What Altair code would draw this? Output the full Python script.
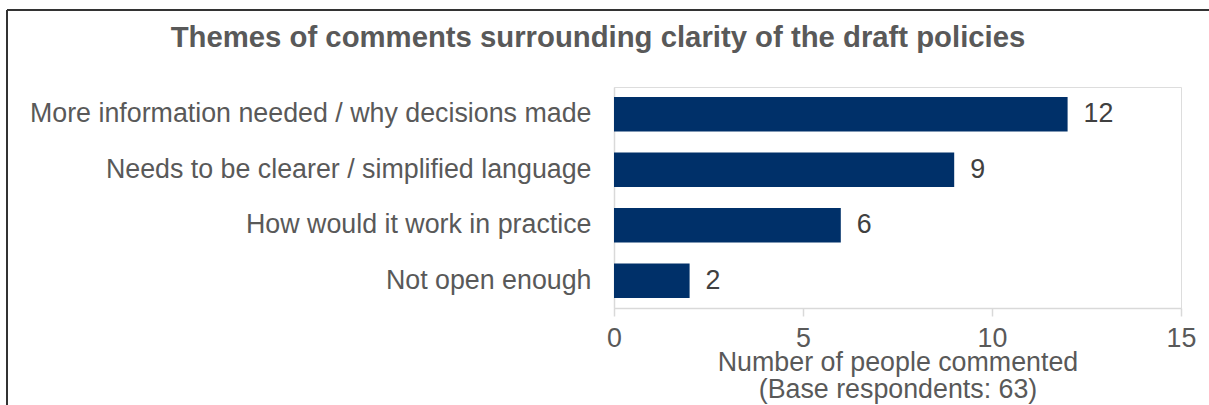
import altair as alt
import pandas as pd

themes = [
    "More information needed / why decisions made",
    "Needs to be clearer / simplified language",
    "How would it work in practice",
    "Not open enough",
]
counts = [12, 9, 6, 2]
x_ticks = [0, 5, 10, 15]
chart_title = "Themes of comments surrounding clarity of the draft policies"
x_title = ["Number of people commented", "(Base respondents: 63)"]

df = pd.DataFrame({"theme": themes, "count": counts})

FONT = "Liberation Sans"
TXT = "#595959"
FS = 26.8

W, H = 567, 221
PAD_L, PAD_T = 614, 87

x_enc = alt.X(
    "count:Q",
    scale=alt.Scale(domain=[0, 15], nice=False, zero=True),
    axis=alt.Axis(
        values=x_ticks,
        title=x_title,
        grid=False,
        domainColor="#d9d9d9",
        domainWidth=1.5,
        tickColor="#d9d9d9",
        tickWidth=1.5,
        tickSize=8,
        labelFlush=False,
        labelFontSize=FS,
        labelFont=FONT,
        labelColor=TXT,
        labelPadding=9,
        titleFontSize=FS,
        titleFont=FONT,
        titleFontWeight="normal",
        titleColor=TXT,
        titleBaseline="top",
        titleY=41,
        titleLineHeight=27,
    ),
)
y_enc = alt.Y(
    "theme:N",
    sort=themes,
    scale=alt.Scale(paddingInner=0.376, paddingOuter=0.18),
    axis=alt.Axis(
        title=None,
        ticks=False,
        domainColor="#d9d9d9",
        domainWidth=1.5,
        labelFontSize=FS,
        labelFont=FONT,
        labelColor=TXT,
        labelPadding=23,
        labelLimit=800,
    ),
)

base = alt.Chart(df)
bars = base.mark_bar(color="#003069").encode(x=x_enc, y=y_enc)
labels = base.mark_text(
    align="left", baseline="middle", dx=16, fontSize=FS, font=FONT, color="#404040"
).encode(x="count:Q", y=alt.Y("theme:N", sort=themes), text="count:Q")

frame_top = base.mark_rule(color="#333333", strokeWidth=2).encode(
    x=alt.value(7 - PAD_L), x2=alt.value(1209 - PAD_L + 10), y=alt.value(10 - PAD_T)
)
frame_left = base.mark_rule(color="#333333", strokeWidth=2).encode(
    x=alt.value(7 - PAD_L), y=alt.value(10 - PAD_T), y2=alt.value(405 - PAD_T + 10)
)

chart = (
    alt.layer(frame_top, frame_left, bars, labels)
    .properties(
        width=W,
        height=H,
        autosize=alt.AutoSizeParams(type="none"),
        padding={"left": PAD_L, "top": PAD_T, "right": 1209 - PAD_L - W, "bottom": 405 - PAD_T - H},
        title=alt.TitleParams(
            chart_title,
            font=FONT,
            fontSize=29.3,
            fontWeight="bold",
            color=TXT,
            anchor="middle",
            frame="group",
            baseline="alphabetic",
            offset=0,
            dy=67,
            dx=598 - (PAD_L + W / 2),
        ),
    )
    .configure_view(stroke=None)
    .configure(background="white")
)

chart.save("out.html", embed_options={"renderer": "svg", "actions": False})
